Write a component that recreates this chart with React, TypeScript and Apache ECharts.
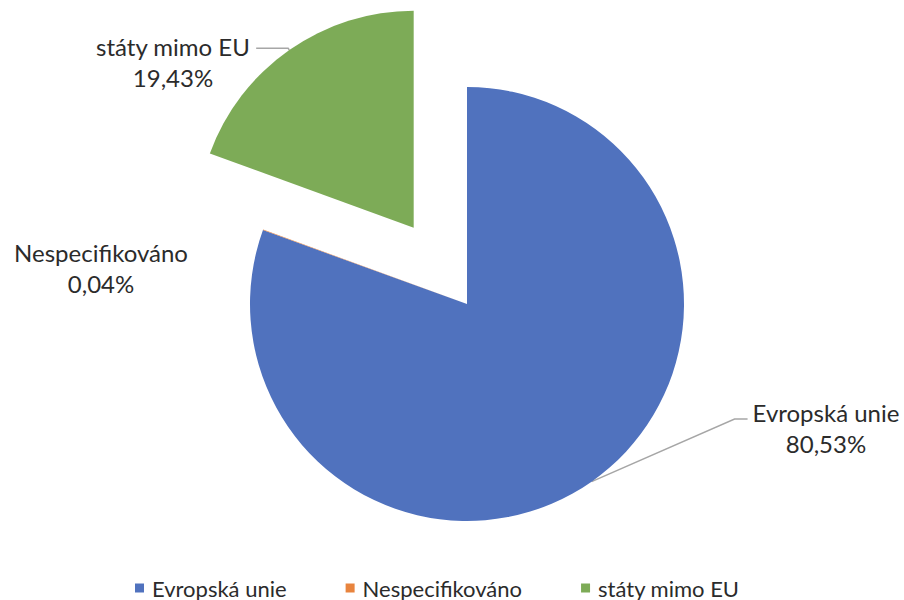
import React, { useEffect, useRef } from "react";
import * as echarts from "echarts";

const categories = ["Evropská unie", "Nespecifikováno", "státy mimo EU"];
const shares = [80.53, 0.04, 19.43];
const colors = ["#5072BE", "#E8843E", "#7DAB57"];
const explodedIndex = 2;
const hiddenLineIndex = 1;

// label block centres for the non-exploded slices (layout only)
const labelCenters: (number[] | null)[] = [[826, 428], [101, 268], null];

const fmt = (v: number) => v.toFixed(2).replace(".", ",") + "%";

const FONT = "Lato";
const TEXT = "#2b2b2b";

export default function App() {
  const ref = useRef<HTMLDivElement>(null);
  useEffect(() => {
    const chart = echarts.init(ref.current!, null, { renderer: "svg" });
    chart.setOption({
      animation: false,
      legend: {
        show: true,
        left: 130,
        top: 572,
        icon: "rect",
        itemWidth: 9,
        itemHeight: 9,
        itemGap: 59,
        selectedMode: false,
        textStyle: {
          fontFamily: FONT,
          fontSize: 22,
          color: TEXT,
          padding: [0, 0, 0, 3],
        },
        data: categories,
      },
      series: [
        {
          type: "pie",
          center: [467, 304],
          radius: 217,
          startAngle: 90,
          clockwise: true,
          selectedMode: "single",
          selectedOffset: 93,
          avoidLabelOverlap: false,
          emphasis: { disabled: true },
          label: {
            show: true,
            position: "outside",
            formatter: (p: any) => `{c|${p.name}}\n{c|${fmt(p.value)}}`,
            fontFamily: FONT,
            fontSize: 24,
            lineHeight: 31,
            color: TEXT,
            rich: {
              c: {
                align: "center",
                fontFamily: FONT,
                fontSize: 24,
                lineHeight: 31,
                color: TEXT,
              },
            },
          },
          labelLine: {
            show: true,
            length: 10,
            length2: 10,
            lineStyle: { color: "#A6A6A6", width: 1.5 },
          },
          labelLayout: (p: any) => {
            const c = labelCenters[p.dataIndex];
            if (!c) return undefined;
            const [cx, cy] = c;
            const w = p.labelRect.width;
            const res: any = { x: cx, y: cy, align: "center", verticalAlign: "middle" };
            const pts = p.labelLinePoints;
            if (pts && pts.length) {
              const start = pts[0];
              const endX = cx - w / 2 - 5;
              const y = cy - 9;
              res.labelLinePoints = [start, [endX - 13, y], [endX, y]];
            }
            return res;
          },
          data: categories.map((name, i) => {
            const item: any = {
              name,
              value: shares[i],
              selected: i === explodedIndex,
              itemStyle: { color: colors[i] },
            };
            if (i === hiddenLineIndex) item.labelLine = { show: false };
            if (i === explodedIndex) {
              item.label = { padding: [28, 0, 0, 0], distanceToLabelLine: 6 };
              item.labelLine = { length: 2, length2: 32 };
            }
            return item;
          }),
        },
      ],
    });
    return () => chart.dispose();
  }, []);
  return (
    <div
      ref={ref}
      style={{ position: "absolute", left: 0, top: 0, width: 904, height: 600 }}
    />
  );
}
